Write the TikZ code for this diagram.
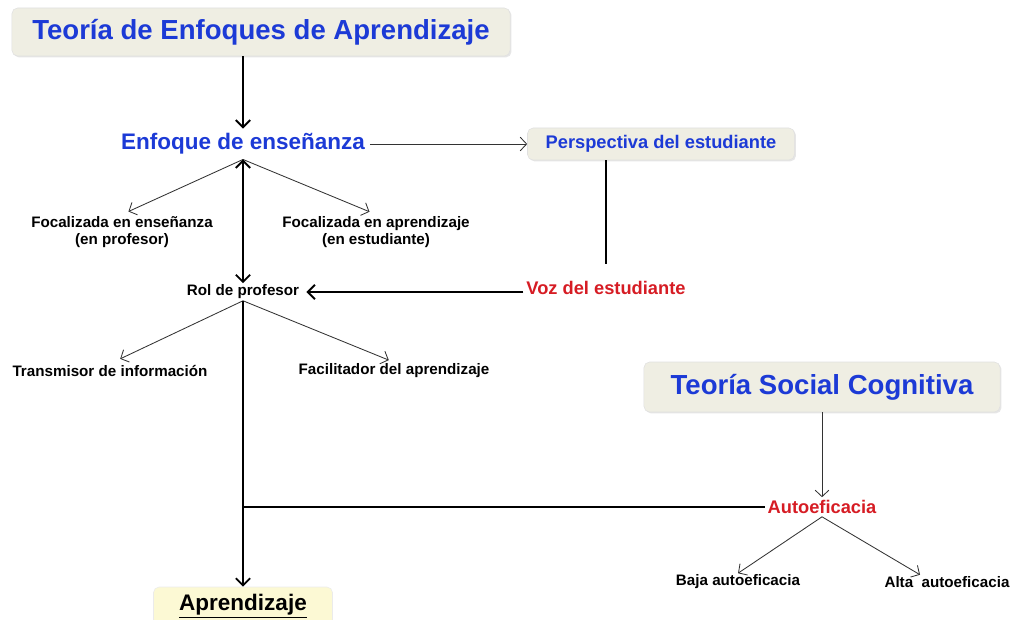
\documentclass[tikz,border=0pt]{standalone}
\usepackage{fontspec}
\setmainfont{Liberation Sans}
\usetikzlibrary{arrows.meta,shadows}

\definecolor{titleblue}{RGB}{28,58,214}
\definecolor{vozred}{RGB}{214,28,36}
\definecolor{boxfill}{RGB}{239,238,227}
\definecolor{aprfill}{RGB}{252,249,212}

\tikzset{
  titlebox/.style={rounded corners=4pt, fill=boxfill, draw=black!12,
    drop shadow={opacity=0.2,shadow xshift=1pt,shadow yshift=-1pt},
    text=titleblue, font=\fontsize{19.6}{22}\selectfont\bfseries},
  bluetext/.style={text=titleblue, font=\fontsize{16}{18}\selectfont\bfseries},
  redtext/.style={text=vozred, font=\fontsize{13}{15}\selectfont\bfseries, inner sep=2pt},
  smalltext/.style={font=\fontsize{10.8}{12.5}\selectfont\bfseries, align=center, inner sep=1pt},
  thinarrow/.style={-{Straight Barb[length=1.6mm,width=3.4mm]}, draw=black!80, line width=0.6pt},
  thickarrow/.style={-{Straight Barb[length=1.8mm,width=3.6mm]}, draw, line width=1.3pt},
}

\begin{document}
\begin{tikzpicture}[x=0.025cm, y=-0.025cm]
  \useasboundingbox (0,0) rectangle (1016,619);

  \node [titlebox, minimum width=12.45cm, minimum height=1.2cm] (teoria) at (261,32) {Teoría de Enfoques de Aprendizaje};
  \node [bluetext] (enfoque) at (243,144) {Enfoque de enseñanza};
  \node [titlebox, font=\fontsize{13}{15}\selectfont\bfseries, minimum width=6.675cm, minimum height=0.8cm] (persp) at (661,144) {Perspectiva del estudiante};
  \node [smalltext] (focprof) at (122,232) {Focalizada en enseñanza\\(en profesor)};
  \node [smalltext] (focest) at (376,232) {Focalizada en aprendizaje\\(en estudiante)};
  \node [smalltext] (rol) at (243,292) {Rol de profesor};
  \node [redtext] (voz) at (606,288) {Voz del estudiante};
  \node [smalltext] (trans) at (110,371) {Transmisor de información};
  \node [smalltext] (facil) at (394,371) {Facilitador del aprendizaje};
  \node [titlebox, minimum width=8.9cm, minimum height=1.25cm] (social) at (822,387) {Teoría Social Cognitiva};
  \node [redtext] (autoef) at (822,507) {Autoeficacia};
  \node [smalltext] (baja) at (738,582) {Baja autoeficacia};
  \node [smalltext] (alta) at (947,582) {Alta\ \ autoeficacia};
  \node [fill=aprfill, draw=black!8, rounded corners=4pt, minimum width=4.475cm, minimum height=0.95cm,
    font=\fontsize{16}{18}\selectfont\bfseries] (apr) at (243,606) {\underline{Aprendizaje}};

  \path (enfoque.north |- teoria.south) edge [thickarrow] (enfoque.north);
  \path (enfoque.east) edge [thinarrow] (persp.west);
  \path (enfoque.south) edge [thinarrow, shorten >=5pt] (focprof.north);
  \path (enfoque.south) edge [thinarrow, shorten >=5pt] (focest.north);
  \path (enfoque.south) edge [thickarrow, {Straight Barb[length=1.8mm,width=3.6mm]}-{Straight Barb[length=1.8mm,width=3.6mm]}] (rol.north);
  \path (voz.north |- persp.south) edge [draw, line width=1.3pt, shorten >=10pt] (voz.north);
  \path (voz.west |- rol.east) edge [thickarrow, shorten >=4pt] (rol.east);
  \path (rol.south) edge [thinarrow, shorten >=8pt] (trans.north);
  \path (rol.south) edge [thinarrow, shorten >=4pt] (facil.north);
  \path (rol.south) edge [thickarrow] (apr.north);
  \path (autoef.west) edge [draw, line width=1.3pt] (autoef.west -| apr.north);
  \path (social) edge [thinarrow] (autoef);
  \path (autoef.south) edge [thinarrow] (baja.north);
  \path (autoef.south) edge [thinarrow] ([xshift=-0.675cm]alta.north);
\end{tikzpicture}
\end{document}
